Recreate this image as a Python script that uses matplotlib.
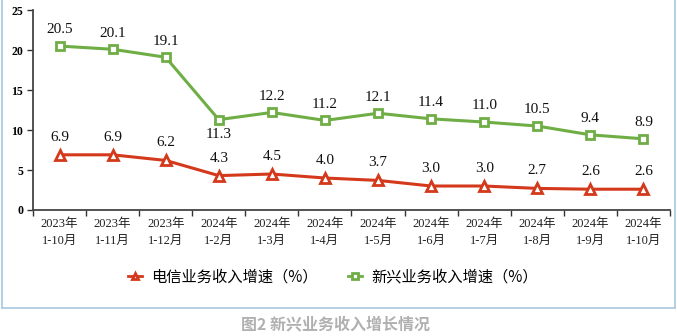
import matplotlib
matplotlib.use("Agg")
import matplotlib.pyplot as plt
from matplotlib.lines import Line2D

periods = ["2023年\n1-10月", "2023年\n1-11月", "2023年\n1-12月", "2024年\n1-2月",
           "2024年\n1-3月", "2024年\n1-4月", "2024年\n1-5月", "2024年\n1-6月",
           "2024年\n1-7月", "2024年\n1-8月", "2024年\n1-9月", "2024年\n1-10月"]
telecom_growth = [6.9, 6.9, 6.2, 4.3, 4.5, 4.0, 3.7, 3.0, 3.0, 2.7, 2.6, 2.6]
emerging_growth = [20.5, 20.1, 19.1, 11.3, 12.2, 11.2, 12.1, 11.4, 11.0, 10.5, 9.4, 8.9]
y_ticks = [0, 5, 10, 15, 20, 25]

red = "#d4391b"
green = "#6fae45"
serif = ["Liberation Serif", "Noto Sans CJK SC"]
cjk = ["Noto Sans CJK SC", "DejaVu Sans"]

fig = plt.figure(figsize=(6.77, 3.36), dpi=100)
ax = fig.add_axes([0.0487, 0.375, 0.9410, 0.595])

x = list(range(len(periods)))
ax.plot(x, telecom_growth, color=red, lw=2.2, marker="^", ms=7, mfc="white",
        mec=red, mew=2, label="电信业务收入增速（%）", zorder=3)
ax.plot(x, emerging_growth, color=green, lw=2.2, marker="s", ms=6, mfc="white",
        mec=green, mew=2, label="新兴业务收入增速（%）", zorder=3)

for xi, v in zip(x, telecom_growth):
    ax.annotate(f"{v:.1f}", (xi, v), xytext=(0, 8), textcoords="offset points",
                ha="center", va="bottom", fontsize=11, family=serif, color="#111111")
for xi, v in zip(x, emerging_growth):
    if v == 11.3:
        ax.annotate(f"{v:.1f}", (xi, v), xytext=(0, -6), textcoords="offset points",
                    ha="center", va="top", fontsize=11, family=serif, color="#111111")
    else:
        ax.annotate(f"{v:.1f}", (xi, v), xytext=(0, 7), textcoords="offset points",
                    ha="center", va="bottom", fontsize=11, family=serif, color="#111111")

ax.set_xlim(-0.5, len(periods) - 0.5)
ax.set_ylim(0, 25)
ax.set_yticks(y_ticks)
ax.set_yticklabels([str(t) for t in y_ticks], family=serif, fontweight="bold", fontsize=8.5)
ax.set_xticks([i - 0.5 for i in range(len(periods) + 1)], minor=False)
ax.set_xticklabels([""] * (len(periods) + 1))
ax.set_xticks(x, minor=True)
ax.set_xticklabels(periods, minor=True, family=serif, fontsize=9, linespacing=1.5,
                   color="#222222")
ax.tick_params(axis="x", which="major", direction="out", length=4, width=1, color="#333333")
ax.tick_params(axis="x", which="minor", length=0, pad=6)
ax.tick_params(axis="y", direction="out", length=4, width=1, color="#333333", pad=3)

for side in ["top", "right"]:
    ax.spines[side].set_visible(False)
for side in ["left", "bottom"]:
    ax.spines[side].set_color("#444444")
    ax.spines[side].set_linewidth(1.3)

leg = fig.legend(loc="center", bbox_to_anchor=(0.492, 0.176), ncol=2, frameon=False,
                 prop={"family": cjk, "size": 11}, handlelength=0.9, columnspacing=2.0,
                 handletextpad=0.6)
for h in leg.legend_handles:
    h.set_markersize(4.5)
    h.set_linewidth(2)

# outer frame around the chart area
frame_color = "#a9c8df"
y_b = 1 - 308 / 336
fig.add_artist(Line2D([1.5 / 677, 1.5 / 677], [y_b, 1.0], color=frame_color, lw=1.2))
fig.add_artist(Line2D([675 / 677, 675 / 677], [y_b, 1.0], color=frame_color, lw=1.2))
fig.add_artist(Line2D([1.5 / 677, 675 / 677], [y_b, y_b], color=frame_color, lw=1.2))

fig.text(0.496, 1 - 324 / 336, "图2 新兴业务收入增长情况", ha="center", va="center",
         family=cjk, fontsize=11.5, color="#b0b0b0", fontweight="bold")

fig.savefig("out.png", dpi=100)
